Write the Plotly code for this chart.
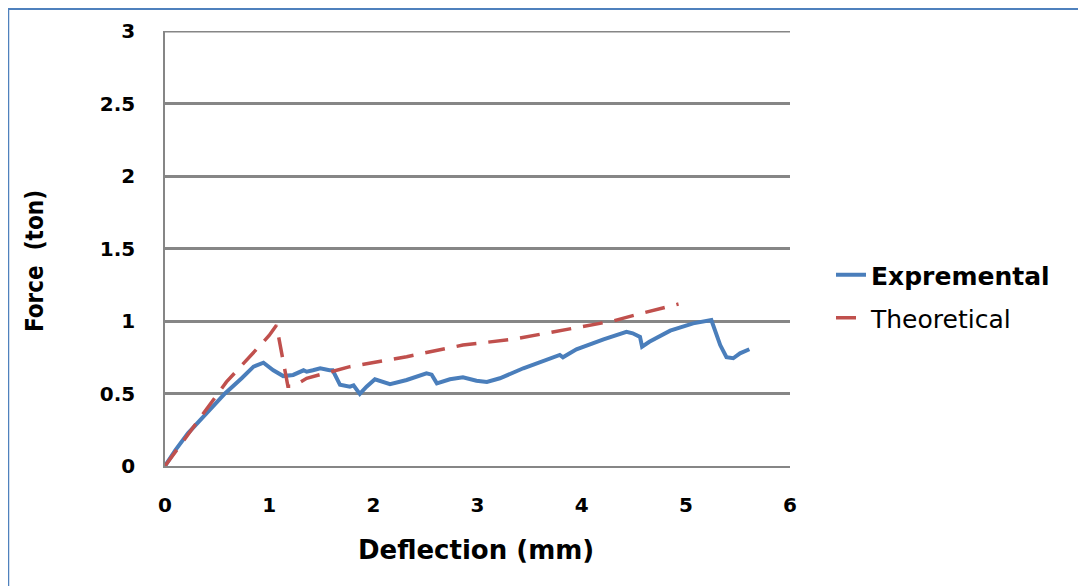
import plotly.graph_objects as go

# Experimental curve (deflection mm, force ton)
exp_x = [0.0, 0.10, 0.22, 0.34, 0.45, 0.576, 0.736, 0.85, 0.945, 1.04, 1.135, 1.23, 1.33, 1.36, 1.42, 1.49,
         1.58, 1.61, 1.68, 1.775, 1.81, 1.87, 1.935, 2.015, 2.16, 2.32, 2.51, 2.56, 2.61, 2.735,
         2.86, 2.99, 3.09, 3.215, 3.44, 3.66, 3.79, 3.82, 3.95, 4.21, 4.43, 4.49, 4.56, 4.58,
         4.65, 4.85, 5.07, 5.245, 5.28, 5.33, 5.39, 5.455, 5.52, 5.61]
exp_y = [0.0, 0.11, 0.225, 0.32, 0.41, 0.50, 0.605, 0.685, 0.712, 0.66, 0.62, 0.628, 0.66, 0.65, 0.66, 0.674,
         0.66, 0.66, 0.56, 0.547, 0.556, 0.497, 0.547, 0.598, 0.565, 0.593, 0.639, 0.63, 0.57, 0.598,
         0.612, 0.588, 0.58, 0.605, 0.674, 0.731, 0.766, 0.75, 0.805, 0.874, 0.926, 0.915, 0.89, 0.823,
         0.857, 0.933, 0.984, 1.007, 0.938, 0.834, 0.75, 0.743, 0.777, 0.805]

# Theoretical curve
th_x = [0.0, 0.59, 1.0, 1.07, 1.18, 1.23, 1.36, 1.775, 2.32, 2.86, 3.34, 3.98, 4.30, 4.56, 4.93]
th_y = [0.0, 0.58, 0.90, 0.97, 0.55, 0.55, 0.605, 0.685, 0.754, 0.834, 0.874, 0.96, 1.0, 1.05, 1.117]

x_ticks = [0, 1, 2, 3, 4, 5, 6]
y_ticks = [0, 0.5, 1, 1.5, 2, 2.5, 3]
y_tick_text = ["0", "0.5", "1", "1.5", "2", "2.5", "3"]

OFF = 8  # page body margin
L, R, T, B = 165 - OFF, 790 - OFF, 31 - OFF, 466 - OFF
W, H = 1086, 586

px = lambda p: (p - OFF - L) / (R - L)   # page px -> paper x
py = lambda p: (B - (p - OFF)) / (B - T)  # page px -> paper y

fig = go.Figure()
fig.add_trace(go.Scatter(x=exp_x, y=exp_y, mode="lines", name="Expremental",
                         line=dict(color="#4a7ebb", width=4), legend="legend"))
fig.add_trace(go.Scatter(x=th_x, y=th_y, mode="lines", name="Theoretical",
                         line=dict(color="#c0504d", width=3.5, dash="20px,12px"), legend="legend2"))

fig.update_layout(
    width=W, height=H,
    margin=dict(l=L, r=W - R, t=T, b=H - B),
    paper_bgcolor="white", plot_bgcolor="white",
    font=dict(family="DejaVu Sans", color="black"),
    xaxis=dict(range=[0, 6], tickvals=x_ticks, ticktext=[str(v) for v in x_ticks],
               showgrid=False, zeroline=False, showline=True, linecolor="#868686", linewidth=1.5,
               tickfont=dict(size=20, family="DejaVu Sans", weight="bold"), ticklabelstandoff=20),
    yaxis=dict(range=[0, 3], tickvals=y_ticks, ticktext=y_tick_text,
               showgrid=True, gridcolor="#868686", gridwidth=3, zeroline=False,
               showline=True, linecolor="#868686", linewidth=1.5,
               tickfont=dict(size=20, family="DejaVu Sans", weight="bold"), ticklabelstandoff=24),
    legend=dict(x=px(831), y=py(275), yanchor="middle", xanchor="left",
                font=dict(size=25, family="DejaVu Sans", weight="bold"), bgcolor="rgba(0,0,0,0)"),
    legend2=dict(x=px(831), y=py(318), yanchor="middle", xanchor="left",
                 font=dict(size=25, family="DejaVu Sans"), bgcolor="rgba(0,0,0,0)"),
    showlegend=True,
    annotations=[
        dict(text="<b>Deflection (mm)</b>", xref="paper", yref="paper", x=px(476), y=py(550),
             xanchor="center", yanchor="middle", showarrow=False,
             font=dict(size=26, family="DejaVu Sans")),
        dict(text="<b>Force  (ton)</b>", xref="paper", yref="paper", x=px(35), y=py(261),
             xanchor="center", yanchor="middle", showarrow=False, textangle=-90,
             font=dict(size=24, family="Liberation Sans Narrow, DejaVu Sans Condensed, DejaVu Sans")),
    ],
    shapes=[
        dict(type="line", xref="x", yref="y", x0=0, x1=6, y0=3, y1=3,
             line=dict(color="#868686", width=3)),
        dict(type="line", xref="paper", yref="paper", x0=px(8), x1=px(1100),
             y0=py(9), y1=py(9), line=dict(color="#4f81bd", width=2)),
        dict(type="line", xref="paper", yref="paper", x0=px(8), x1=px(8),
             y0=py(8), y1=py(620), line=dict(color="#4f81bd", width=2.5)),
    ],
)

fig.write_html("out.html")
